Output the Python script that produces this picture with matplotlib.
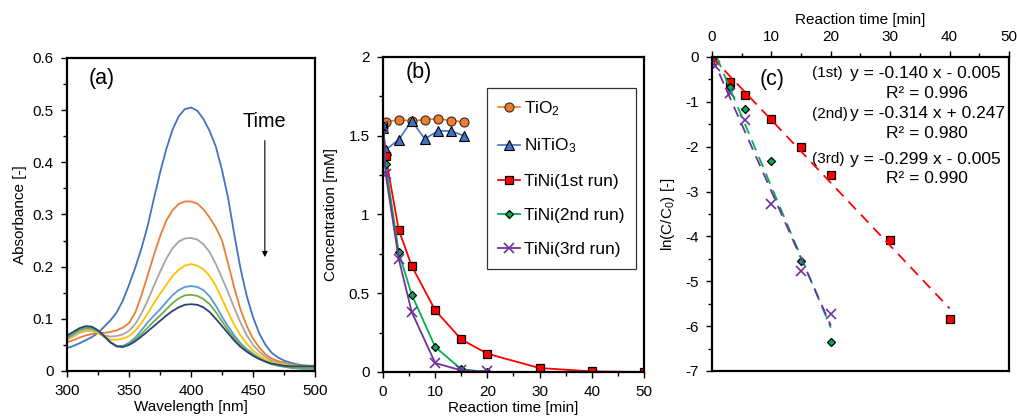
import matplotlib
matplotlib.use("Agg")
import matplotlib.pyplot as plt
from matplotlib.ticker import MultipleLocator, FuncFormatter

plt.rcParams['font.family'] = ['Liberation Sans', 'DejaVu Sans']
plt.rcParams['mathtext.default'] = 'regular'
plt.rcParams['axes.unicode_minus'] = False

# ---- (a) UV-vis spectra, read every 5 nm ----
wavelength = list(range(300, 505, 5))
spec_t0 = [0.044, 0.048, 0.053, 0.059, 0.065, 0.073, 0.085, 0.097, 0.112, 0.135,
           0.165, 0.198, 0.235, 0.278, 0.330, 0.380, 0.425, 0.462, 0.488, 0.502,
           0.505, 0.499, 0.483, 0.460, 0.430, 0.385, 0.330, 0.260, 0.195, 0.143,
           0.103, 0.072, 0.050, 0.035, 0.026, 0.020, 0.016, 0.013, 0.011, 0.010, 0.010]
spec_t1 = [0.055, 0.059, 0.064, 0.068, 0.071, 0.073, 0.073, 0.075, 0.078, 0.083,
           0.092, 0.112, 0.145, 0.183, 0.222, 0.258, 0.288, 0.308, 0.320, 0.325,
           0.325, 0.321, 0.310, 0.294, 0.275, 0.250, 0.205, 0.158, 0.117, 0.086,
           0.062, 0.045, 0.032, 0.024, 0.019, 0.016, 0.013, 0.011, 0.010, 0.010, 0.010]
spec_t2 = [0.060, 0.066, 0.073, 0.077, 0.077, 0.074, 0.068, 0.066, 0.067, 0.070,
           0.077, 0.090, 0.110, 0.135, 0.163, 0.190, 0.215, 0.235, 0.248, 0.254,
           0.255, 0.252, 0.243, 0.228, 0.205, 0.178, 0.150, 0.120, 0.092, 0.068,
           0.050, 0.037, 0.027, 0.020, 0.016, 0.014, 0.012, 0.010, 0.009, 0.009, 0.009]
spec_t3 = [0.061, 0.067, 0.075, 0.079, 0.078, 0.073, 0.065, 0.060, 0.060, 0.062,
           0.067, 0.077, 0.092, 0.110, 0.130, 0.148, 0.165, 0.182, 0.194, 0.202,
           0.205, 0.202, 0.195, 0.182, 0.163, 0.138, 0.112, 0.088, 0.068, 0.052,
           0.039, 0.030, 0.022, 0.017, 0.014, 0.012, 0.010, 0.009, 0.008, 0.008, 0.008]
spec_t4 = [0.063, 0.070, 0.078, 0.082, 0.081, 0.076, 0.066, 0.055, 0.048, 0.048,
           0.054, 0.064, 0.078, 0.093, 0.106, 0.118, 0.132, 0.145, 0.155, 0.161,
           0.163, 0.161, 0.155, 0.143, 0.125, 0.104, 0.085, 0.068, 0.053, 0.042,
           0.033, 0.025, 0.018, 0.013, 0.010, 0.008, 0.006, 0.005, 0.004, 0.004, 0.004]
spec_t5 = [0.066, 0.073, 0.080, 0.084, 0.083, 0.077, 0.066, 0.055, 0.048, 0.047,
           0.052, 0.060, 0.071, 0.083, 0.095, 0.106, 0.118, 0.130, 0.139, 0.145,
           0.146, 0.144, 0.138, 0.128, 0.113, 0.095, 0.078, 0.063, 0.050, 0.040,
           0.031, 0.024, 0.018, 0.014, 0.011, 0.009, 0.007, 0.006, 0.006, 0.006, 0.006]
spec_t6 = [0.068, 0.075, 0.082, 0.086, 0.085, 0.078, 0.067, 0.055, 0.047, 0.046,
           0.050, 0.057, 0.066, 0.076, 0.086, 0.096, 0.106, 0.115, 0.122, 0.127,
           0.128, 0.127, 0.122, 0.113, 0.100, 0.086, 0.072, 0.058, 0.046, 0.037,
           0.029, 0.023, 0.018, 0.014, 0.012, 0.010, 0.009, 0.009, 0.009, 0.009, 0.009]
spectra = [spec_t0, spec_t1, spec_t2, spec_t3, spec_t4, spec_t5, spec_t6]
spec_colors = ['#4472C4', '#ED7D31', '#A5A5A5', '#FFC000', '#5B9BD5', '#70AD47', '#264478']

# ---- (b) concentration vs time ----
t_ref = [0, 0.5, 3, 5.5, 8, 10.5, 13, 15.5]
c_tio2 = [1.556, 1.587, 1.602, 1.594, 1.602, 1.608, 1.596, 1.589]
c_nitio3 = [1.55, 1.41, 1.475, 1.594, 1.48, 1.53, 1.53, 1.50]
t_run1 = [0, 0.5, 3, 5.5, 10, 15, 20, 30, 40, 50]
c_run1 = [1.56, 1.37, 0.904, 0.673, 0.392, 0.207, 0.116, 0.025, 0.004, 0.0]
t_run2 = [0, 0.5, 3, 5.5, 10, 15, 20]
c_run2 = [1.56, 1.32, 0.762, 0.491, 0.159, 0.017, 0.0]
t_run3 = [0, 0.5, 3, 5.5, 10, 15, 20]
c_run3 = [1.56, 1.26, 0.72, 0.381, 0.057, 0.01, 0.004]

# ---- (c) ln(C/C0) vs time and linear fits ----
t_ln1 = [0, 3, 5.5, 10, 15, 20, 30, 40]
ln_run1 = [0, -0.55, -0.85, -1.39, -2.01, -2.63, -4.08, -5.83]
t_ln2 = [0, 3, 5.5, 10, 15, 20]
ln_run2 = [0, -0.68, -1.17, -2.31, -4.55, -6.35]
t_ln3 = [0, 0.5, 3, 5.5, 10, 15, 20]
ln_run3 = [0, -0.21, -0.80, -1.40, -3.28, -4.77, -5.72]
fit_slope = [-0.140, -0.314, -0.299]
fit_icpt = [-0.005, 0.247, -0.005]
fit_r2 = [0.996, 0.980, 0.990]
fit_start = [0, 0.8, 0]
fit_end = [40, 20, 20]
run_names = ['(1st)', '(2nd)', '(3rd)']

RED, GREEN, PURPLE = '#FF0000', '#00B050', '#7030A0'

fig = plt.figure(figsize=(10.17, 4.16), dpi=100)
ax_a = fig.add_axes([0.0659, 0.1082, 0.2439, 0.7524])
ax_b = fig.add_axes([0.3766, 0.1058, 0.2566, 0.7572])
ax_c = fig.add_axes([0.7001, 0.1082, 0.2920, 0.7548])

fmt = FuncFormatter(lambda v, _: f'{v:g}')
for ax in (ax_a, ax_b, ax_c):
    for s in ax.spines.values():
        s.set_linewidth(1.6)
    ax.tick_params(which='both', direction='out', width=1.0, labelsize=11, pad=5.5)
    ax.tick_params(which='major', length=4)
    ax.tick_params(which='minor', length=3)
    ax.yaxis.set_major_formatter(fmt)
    ax.xaxis.set_major_formatter(fmt)

# (a)
for spec, col in zip(spectra, spec_colors):
    ax_a.plot(wavelength, spec, color=col, lw=1.3)
ax_a.set_xlim(300, 500)
ax_a.set_ylim(0, 0.6)
ax_a.xaxis.set_major_locator(MultipleLocator(50))
ax_a.xaxis.set_minor_locator(MultipleLocator(25))
ax_a.yaxis.set_major_locator(MultipleLocator(0.1))
ax_a.yaxis.set_minor_locator(MultipleLocator(0.05))
ax_a.set_xlabel('Wavelength [nm]', fontsize=11, labelpad=1)
ax_a.set_ylabel('Absorbance [-]', fontsize=11, labelpad=4)
ax_a.text(328, 0.56, '(a)', fontsize=15.5, ha='center', va='center')
ax_a.text(459, 0.478, 'Time', fontsize=14.3, ha='center', va='center')
ax_a.annotate('', xy=(459.5, 0.213), xytext=(459.5, 0.447),
              arrowprops=dict(arrowstyle='-|>', color='black', lw=0.8,
                              mutation_scale=8))

# (b)
ax_b.plot(t_ref, c_tio2, color='#ED7D31', lw=1.2, marker='o', ms=6.5,
          mfc='#ED7D31', mec='#3a2a1a', mew=0.8, label='TiO$_2$')
ax_b.plot(t_ref, c_nitio3, color='#4472C4', lw=1.2, marker='^', ms=6.5,
          mfc='#4472C4', mec='black', mew=0.8, label='NiTiO$_3$')
ax_b.plot(t_run1, c_run1, color=RED, lw=1.3, marker='s', ms=6,
          mfc=RED, mec='black', mew=0.9, label='TiNi(1st run)')
ax_b.plot(t_run2, c_run2, color=GREEN, lw=1.3, marker='D', ms=4.5,
          mfc=GREEN, mec='black', mew=0.9, label='TiNi(2nd run)')
ax_b.plot(t_run3, c_run3, color=PURPLE, lw=1.3, marker='x', ms=7,
          mew=1.2, label='TiNi(3rd run)')
ax_b.set_xlim(0, 50)
ax_b.set_ylim(0, 2)
ax_b.xaxis.set_major_locator(MultipleLocator(10))
ax_b.xaxis.set_minor_locator(MultipleLocator(5))
ax_b.yaxis.set_major_locator(MultipleLocator(0.5))
ax_b.yaxis.set_minor_locator(MultipleLocator(0.25))
ax_b.set_xlabel('Reaction time [min]', fontsize=11, labelpad=1)
ax_b.set_ylabel('Concentration [mM]', fontsize=11, labelpad=8)
ax_b.text(6.9, 1.90, '(b)', fontsize=15.5, ha='center', va='center')
leg = ax_b.legend(loc='upper left', bbox_to_anchor=(0.398, 0.902), fontsize=12.4,
                  handlelength=1.27, handletextpad=0.25, labelspacing=1.1,
                  borderpad=0.65, borderaxespad=0, fancybox=False, framealpha=1)
leg.get_frame().set_edgecolor('#333333')
leg.get_frame().set_linewidth(0.9)

# (c)
ax_c.plot(t_ln1, ln_run1, ls='none', marker='s', ms=6.2, mfc=RED, mec='black', mew=0.9)
ax_c.plot(t_ln2, ln_run2, ls='none', marker='D', ms=4.5, mfc=GREEN, mec='black', mew=0.9)
ax_c.plot(t_ln3, ln_run3, ls='none', marker='x', ms=7.5, color=PURPLE, mew=1.2)
for k, col in enumerate([RED, GREEN, PURPLE]):
    xs = [fit_start[k], fit_end[k]]
    ys = [fit_slope[k] * x + fit_icpt[k] for x in xs]
    ax_c.plot(xs, ys, color=col, lw=1.3, ls=(0, (6, 4)))
ax_c.set_xlim(0, 50)
ax_c.set_ylim(-7, 0)
ax_c.xaxis.tick_top()
ax_c.xaxis.set_label_position('top')
ax_c.xaxis.set_major_locator(MultipleLocator(10))
ax_c.xaxis.set_minor_locator(MultipleLocator(5))
ax_c.yaxis.set_major_locator(MultipleLocator(1))
ax_c.yaxis.set_minor_locator(MultipleLocator(0.5))
ax_c.set_xlabel('Reaction time [min]', fontsize=11, labelpad=4)
ax_c.set_ylabel('ln(C/C$_0$) [-]', fontsize=11, labelpad=6)
ax_c.text(10.1, -0.51, '(c)', fontsize=15.5, ha='center', va='center')
eq_y = [-0.33, -1.23, -2.25]
r2_y = [-0.78, -1.67, -2.68]
for k in range(3):
    sign = '-' if fit_icpt[k] < 0 else '+'
    ax_c.text(16.8, eq_y[k], run_names[k], fontsize=11, ha='left', va='center_baseline')
    ax_c.text(23.2, eq_y[k], f'y = {fit_slope[k]:.3f} x {sign} {abs(fit_icpt[k]):.3f}',
              fontsize=12.5, ha='left', va='center_baseline')
    ax_c.text(36.2, r2_y[k], f'R² = {fit_r2[k]:.3f}', fontsize=12.5,
              ha='center', va='center_baseline')

fig.savefig('out.png', dpi=100)
